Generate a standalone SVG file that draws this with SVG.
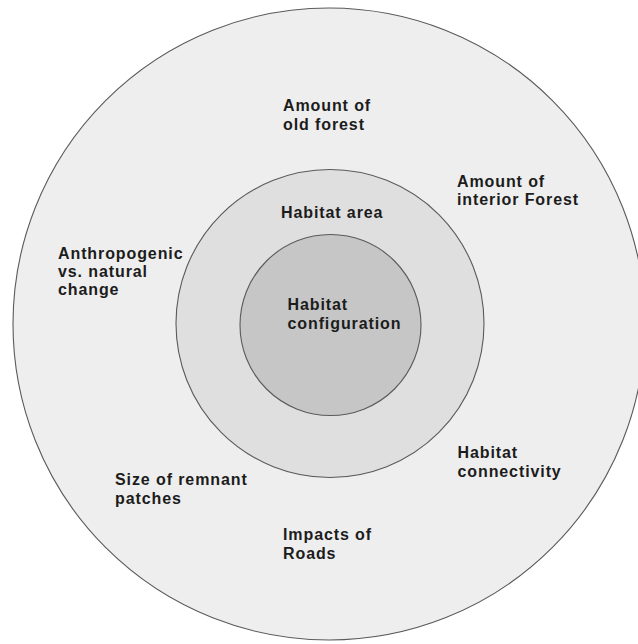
<svg xmlns="http://www.w3.org/2000/svg" width="638" height="644" viewBox="0 0 638 644">
<style>
.ring{stroke:#5a5a5a;stroke-width:1.1}
.lbl{font-family:"Liberation Sans",Arial,sans-serif;font-size:16px;font-weight:bold;letter-spacing:0.9px;fill:#1c1c1c}
</style>
<rect width="638" height="644" fill="#ffffff"/>
<g id="outer">
<circle class="ring" cx="329" cy="324" r="316" fill="#eeeeee"/>
</g>
<g id="middle">
<circle class="ring" cx="330" cy="323.5" r="154" fill="#dfdfdf"/>
</g>
<g id="inner">
<circle class="ring" cx="330.5" cy="325" r="90.5" fill="#c6c6c6"/>
</g>
<g id="connectors"/>
<g id="label-old-forest"><text class="lbl" x="283" y="111">Amount of</text><text class="lbl" x="283" y="129.5">old forest</text></g>
<g id="label-interior-forest"><text class="lbl" x="457" y="186.5">Amount of</text><text class="lbl" x="457" y="205">interior Forest</text></g>
<g id="label-habitat-area"><text class="lbl" x="281" y="218">Habitat area</text></g>
<g id="label-anthropogenic"><text class="lbl" x="58" y="258.5">Anthropogenic</text><text class="lbl" x="58" y="276.5">vs. natural</text><text class="lbl" x="58" y="294.5">change</text></g>
<g id="label-habitat-configuration"><text class="lbl" x="287.5" y="310">Habitat</text><text class="lbl" x="287.5" y="329">configuration</text></g>
<g id="label-connectivity"><text class="lbl" x="457.5" y="458">Habitat</text><text class="lbl" x="457.5" y="476.5">connectivity</text></g>
<g id="label-remnant"><text class="lbl" x="115" y="485">Size of remnant</text><text class="lbl" x="115" y="503.5">patches</text></g>
<g id="label-roads"><text class="lbl" x="283" y="540">Impacts of</text><text class="lbl" x="283" y="558.5">Roads</text></g>
</svg>
